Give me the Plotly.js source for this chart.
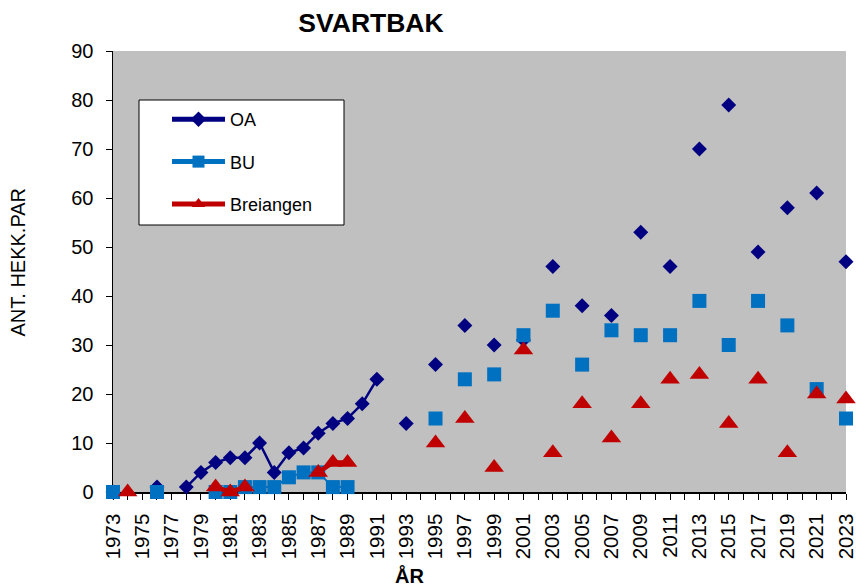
<!DOCTYPE html>
<html>
<head>
<meta charset="utf-8">
<script src="https://cdn.plot.ly/plotly-3.0.1.min.js"></script>
<style>html,body{margin:0;padding:0;background:#fff}#chart{width:856px;height:586px}</style>
</head>
<body>
<div id="chart"></div>
<script>
// Years (x categories)
var years = [1973,1974,1975,1976,1977,1978,1979,1980,1981,1982,1983,1984,1985,1986,1987,1988,1989,1990,1991,1992,1993,1994,1995,1996,1997,1998,1999,2000,2001,2002,2003,2004,2005,2006,2007,2008,2009,2010,2011,2012,2013,2014,2015,2016,2017,2018,2019,2020,2021,2022,2023];
// Tick labels (every second year labelled)
var tickLabels = ["1973","","1975","","1977","","1979","","1981","","1983","","1985","","1987","","1989","","1991","","1993","","1995","","1997","","1999","","2001","","2003","","2005","","2007","","2009","","2011","","2013","","2015","","2017","","2019","","2021","","2023"];
// Series values (null = no count)
var oa = [0,null,null,1,null,1,4,6,7,7,10,4,8,9,12,14,15,18,23,null,14,null,26,null,34,null,30,null,31,null,46,null,38,null,36,null,53,null,46,null,70,null,79,null,49,null,58,null,61,null,47];
var bu = [0,null,null,0,null,null,null,0,0,1,1,1,3,4,4,1,1,null,null,null,null,null,15,null,23,null,24,null,32,null,37,null,26,null,33,null,32,null,32,null,39,null,30,null,39,null,34,null,21,null,15];
var breiangen = [null,0,null,null,null,null,null,1,0,1,null,null,null,null,4,6,6,null,null,null,null,null,10,null,15,null,5,null,29,null,8,null,18,null,11,null,18,null,23,null,24,null,14,null,23,null,8,null,20,null,19];

var FONT = 'Arial, "Liberation Sans", sans-serif';
var L = 113, R = 10, T = 51, B = 94, W = 856, H = 586;
var pw = W - L - R, ph = H - T - B;
function px(x){ return (x - L) / pw; }
function py(y){ return 1 - (y - T) / ph; }

var traces = [
  {x: years, y: oa, name: 'OA', type: 'scatter', mode: 'lines+markers', connectgaps: false, cliponaxis: false,
   line: {color: '#000080', width: 2.5}, marker: {symbol: 'diamond', size: 11.5, color: '#000080', line: {width: 0}}, legendgroup: 'a'},
  {x: years, y: bu, name: 'BU', type: 'scatter', mode: 'lines+markers', connectgaps: false, cliponaxis: false,
   line: {color: '#0070C0', width: 2}, marker: {symbol: 'square', size: 14, color: '#0070C0', line: {width: 0}}, legendgroup: 'b'},
  {x: years, y: breiangen, name: 'Breiangen', type: 'scatter', mode: 'lines+markers', connectgaps: false, cliponaxis: false,
   line: {color: '#C00000', width: 4.5}, marker: {symbol: 'triangle-up', size: 17, color: '#C00000', line: {width: 0}}, legendgroup: 'c'}
];

var layout = {
  width: W, height: H,
  margin: {l: L, r: R, t: T, b: B, pad: 0},
  paper_bgcolor: '#ffffff', plot_bgcolor: '#C0C0C0',
  font: {family: FONT, size: 19, color: '#000'},
  title: {text: 'SVARTBAK', font: {family: FONT, size: 26.5, weight: 'bold', color: '#000'},
          xref: 'container', yref: 'container', x: 371/W, xanchor: 'center', y: 1 - 23/H, yanchor: 'middle'},
  showlegend: true,
  legend: {x: px(167), y: py(101), xanchor: 'left', yanchor: 'top', bgcolor: 'rgba(0,0,0,0)', borderwidth: 0, itemwidth: 53,
           font: {family: FONT, size: 18, color: '#000'}, traceorder: 'grouped', tracegroupgap: 16, itemsizing: 'constant'},
  xaxis: {range: [1973, 2023], tickmode: 'array', tickvals: years, ticktext: tickLabels, tickangle: -90,
          ticks: 'outside', ticklen: 6, tickwidth: 1, tickcolor: '#000', ticklabelstandoff: 6, ticklabeloverflow: 'allow',
          showline: true, linecolor: '#000', linewidth: 1.5, showgrid: false, zeroline: false,
          tickfont: {family: FONT, size: 20.5, color: '#000'}, layer: 'below traces', fixedrange: true},
  yaxis: {range: [0, 90], dtick: 10, tick0: 0, ticks: 'outside', ticklen: 6, tickwidth: 1, tickcolor: '#000', ticklabelstandoff: 8,
          showline: true, linecolor: '#000', linewidth: 1.5, showgrid: false, zeroline: false,
          tickfont: {family: FONT, size: 20, color: '#000'}, layer: 'below traces', fixedrange: true},
  xaxis2: {overlaying: 'x', anchor: 'y', side: 'bottom', range: [1973, 2023], dtick: 1, tick0: 1973,
           ticks: 'inside', ticklen: 6, tickwidth: 1, tickcolor: '#000', showticklabels: false,
           showline: false, showgrid: false, zeroline: false, layer: 'below traces', fixedrange: true},
  yaxis2: {overlaying: 'y', anchor: 'x', side: 'left', range: [0, 90], dtick: 10, tick0: 0,
           ticks: 'inside', ticklen: 6, tickwidth: 1, tickcolor: '#000', showticklabels: false,
           showline: false, showgrid: false, zeroline: false, layer: 'below traces', fixedrange: true},
  xaxis3: {overlaying: 'x', anchor: 'y', side: 'top', range: [1973, 2023], ticks: '', showticklabels: false,
           showline: true, linecolor: '#808080', linewidth: 2, showgrid: false, zeroline: false, layer: 'below traces', fixedrange: true},
  yaxis3: {overlaying: 'y', anchor: 'x', side: 'right', range: [0, 90], ticks: '', showticklabels: false,
           showline: true, linecolor: '#808080', linewidth: 2, showgrid: false, zeroline: false, layer: 'below traces', fixedrange: true},
  shapes: [
    {type: 'rect', xref: 'paper', yref: 'paper', x0: px(139), x1: px(344), y0: py(225), y1: py(100),
     fillcolor: '#ffffff', line: {color: '#000', width: 1}, layer: 'above'}
  ],
  annotations: [
    {text: 'ANT. HEKK.PAR', xref: 'paper', yref: 'paper', x: px(17.5), y: py(262), xanchor: 'center', yanchor: 'middle',
     textangle: -90, showarrow: false, font: {family: FONT, size: 20, color: '#000'}},
    {text: 'ÅR', xref: 'paper', yref: 'paper', x: px(409), y: py(575), xanchor: 'center', yanchor: 'middle',
     showarrow: false, font: {family: FONT, size: 20, weight: 'bold', color: '#000'}}
  ]
};

Plotly.newPlot('chart', traces, layout, {displayModeBar: false, staticPlot: true});
</script>
</body>
</html>
